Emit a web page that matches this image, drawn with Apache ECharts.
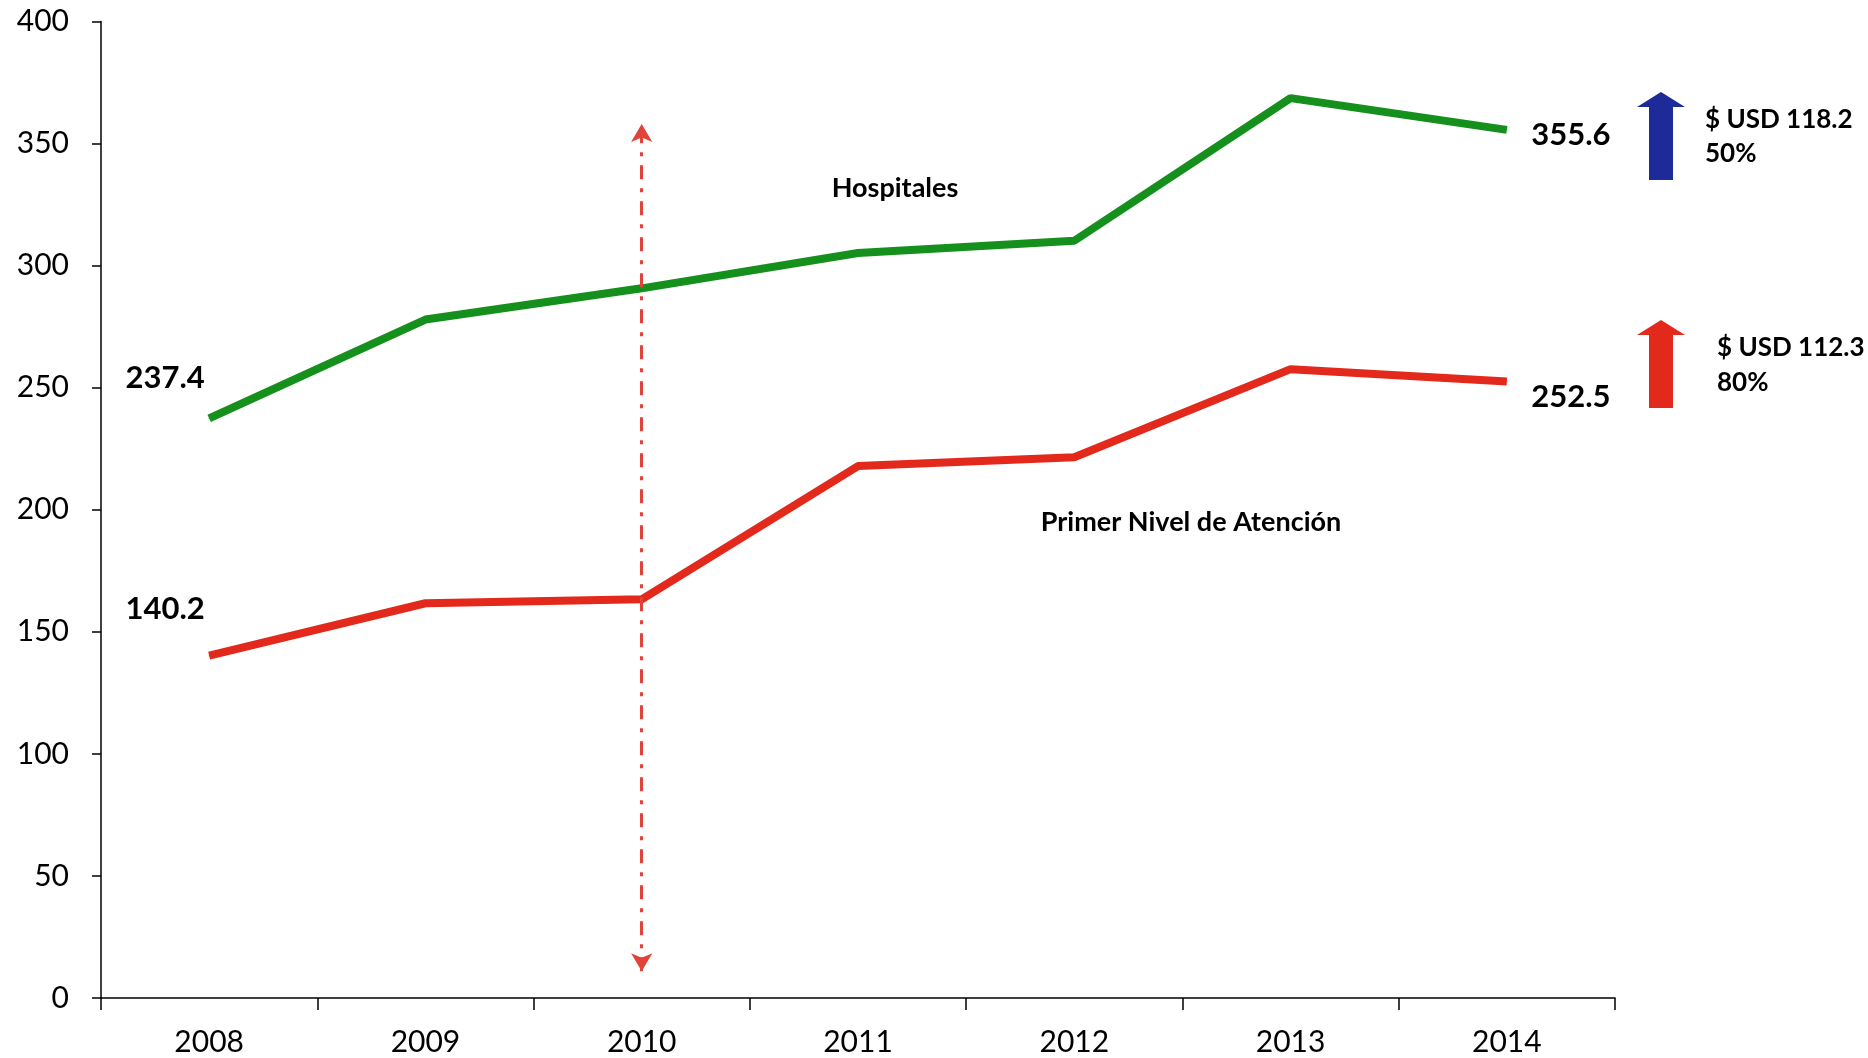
<!DOCTYPE html>
<html>
<head>
<meta charset="utf-8">
<script src="https://cdn.jsdelivr.net/npm/echarts@6/dist/echarts.min.js"></script>
<style>
  html, body { margin: 0; padding: 0; background: #fff; }
  #chart { width: 1868px; height: 1058px; }
</style>
</head>
<body>
<div id="chart"></div>
<script>
// data
const years = ['2008', '2009', '2010', '2011', '2012', '2013', '2014']
const hospitales = [237.4, 277.9, 290.7, 305.2, 310.2, 368.6, 355.6]
const primerNivel = [140.2, 161.7, 163.3, 217.9, 221.5, 257.6, 252.5]
const yTicks = [0, 50, 100, 150, 200, 250, 300, 350, 400]
const arrowRange = [11, 358] // vertical dash-dot arrow at 2010

const FONT = 'Lato'
const GREEN = '#16901c'
const RED = '#e2291b'
const BLUE = '#1c2a9a'

// only first and last point carry a value label
function withEndLabels(values, firstOffset, lastOffset) {
  return values.map((v, i) => {
    if (i === 0 || i === values.length - 1) {
      return {
        value: v,
        label: {
          show: true,
          position: 'inside',
          offset: i === 0 ? firstOffset : lastOffset,
          formatter: String(v),
          color: '#000',
          fontFamily: FONT,
          fontWeight: 'bold',
          fontSize: 31
        }
      }
    }
    return v
  })
}

function blockArrow(cx, top, bottom, color) {
  const headW = 24, shaftW = 12, headH = 15
  return {
    type: 'polygon',
    shape: {
      points: [
        [cx, top], [cx + headW, top + headH], [cx + shaftW, top + headH],
        [cx + shaftW, bottom], [cx - shaftW, bottom], [cx - shaftW, top + headH],
        [cx - headW, top + headH]
      ]
    },
    style: { fill: color }
  }
}

function note(x, y, text, size, align) {
  return {
    type: 'text',
    x: x,
    y: y,
    style: {
      text: text,
      font: 'bold ' + size + 'px ' + FONT,
      fill: '#000',
      align: align || 'left',
      verticalAlign: 'middle'
    }
  }
}

const chart = echarts.init(document.getElementById('chart'))
chart.setOption({
  animation: false,
  backgroundColor: '#fff',
  grid: { left: 101, right: 253, top: 21.5, bottom: 60, containLabel: false },
  xAxis: {
    type: 'category',
    data: years,
    boundaryGap: true,
    axisLine: { lineStyle: { color: '#000', width: 1.5 } },
    axisTick: { show: true, length: 12, lineStyle: { color: '#000', width: 1.5 } },
    axisLabel: { color: '#000', fontFamily: FONT, fontSize: 30, margin: 29 },
    splitLine: { show: false }
  },
  yAxis: {
    type: 'value',
    min: yTicks[0],
    max: yTicks[yTicks.length - 1],
    interval: 50,
    axisLine: { show: true, lineStyle: { color: '#000', width: 1.5 } },
    axisTick: { show: true, length: 9, lineStyle: { color: '#000', width: 1.5 } },
    axisLabel: { color: '#000', fontFamily: FONT, fontSize: 30, margin: 32 },
    splitLine: { show: false }
  },
  series: [
    {
      name: 'Hospitales',
      type: 'line',
      data: withEndLabels(hospitales, [-44, -40], [64, 5]),
      symbol: 'circle',
      symbolSize: 1,
      itemStyle: { color: GREEN },
      lineStyle: { color: GREEN, width: 8 },
      z: 3
    },
    {
      name: 'Primer Nivel de Atención',
      type: 'line',
      data: withEndLabels(primerNivel, [-44, -47], [64, 15]),
      symbol: 'circle',
      symbolSize: 1,
      itemStyle: { color: RED },
      lineStyle: { color: RED, width: 8 },
      z: 3,
      markLine: {
        silent: true,
        symbol: ['arrow', 'arrow'],
        symbolSize: [16, 18],
        label: { show: false },
        lineStyle: { color: '#e0433a', width: 3, type: [14, 9, 4, 9] },
        data: [[
          { coord: [years[2], arrowRange[0]] },
          { coord: [years[2], arrowRange[1]] }
        ]]
      }
    }
  ],
  graphic: [
    note(895, 188, 'Hospitales', 27, 'center'),
    note(1191, 522, 'Primer Nivel de Atención', 27, 'center'),
    blockArrow(1661, 92, 180, BLUE),
    blockArrow(1661, 320, 408, RED),
    note(1705, 120, '$ USD 118.2', 26),
    note(1705, 154, '50%', 26),
    note(1717, 348, '$ USD 112.3', 26),
    note(1717, 383, '80%', 26)
  ]
})
</script>
</body>
</html>
